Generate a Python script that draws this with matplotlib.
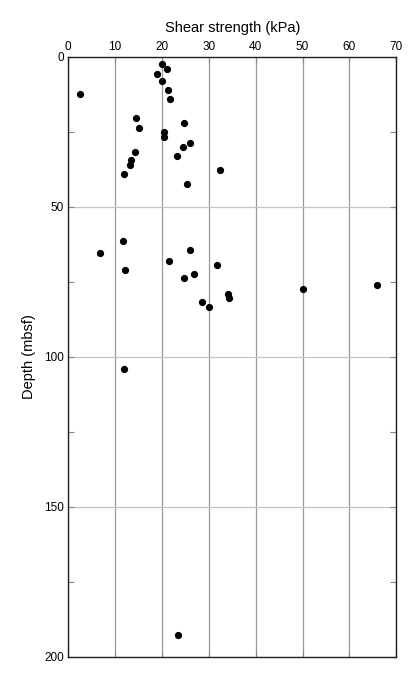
import matplotlib
matplotlib.use('Agg')
import matplotlib.pyplot as plt
import numpy as np

plt.rcParams['font.family'] = ['Liberation Sans', 'DejaVu Sans']

# shear strength (kPa) vs depth (mbsf)
strength = [20.1, 21.0, 18.9, 20.1, 2.5, 21.3, 21.8, 14.4, 24.8, 15.1,
            20.5, 20.4, 26.0, 24.5, 14.2, 23.1, 13.4, 13.2, 11.9, 25.4,
            32.4,
            11.7, 6.7, 25.9, 21.6, 12.0, 31.7, 24.6, 26.8, 50.1, 66.0,
            34.0, 34.3, 28.5, 30.0,
            11.9, 23.4]
depth = [2.4, 4.1, 5.8, 8.0, 12.4, 11.0, 14.0, 20.5, 22.1, 23.7,
         25.0, 26.7, 28.7, 30.2, 31.7, 33.1, 34.5, 36.2, 39.0, 42.4,
         37.8,
         61.5, 65.5, 64.5, 68.0, 71.0, 69.5, 73.9, 72.4, 77.4, 76.1,
         79.0, 80.5, 81.9, 83.4,
         104.1, 192.7]

xticks = [0, 10, 20, 30, 40, 50, 60, 70]
yticks = [0, 50, 100, 150, 200]

fig = plt.figure(figsize=(4.14, 6.76), dpi=100)
ax = fig.add_axes([0.165, 0.0286, 0.792, 0.8874])

ax.plot(strength, depth, 'o', color='black', markersize=4.2, zorder=3)

ax.set_xlim(0, 70)
ax.set_ylim(200, 0)
ax.set_xticks(xticks)
ax.set_yticks(yticks)
ax.set_yticks([25, 75, 125, 175], minor=True)

ax.xaxis.tick_top()
ax.xaxis.set_label_position('top')
ax.tick_params(axis='x', which='both', direction='in', top=True, bottom=True,
               length=4, width=0.8, color='#888888', labelsize=8.5, pad=3)
ax.tick_params(axis='y', which='both', direction='in', left=True, right=True,
               length=4, width=0.8, color='#888888', labelsize=8.5, pad=3)

ax.grid(axis='x', color='#999999', linewidth=0.9)
ax.grid(axis='y', which='major', color='#c4c4c4', linewidth=0.9)
ax.set_axisbelow(True)

for s in ax.spines.values():
    s.set_linewidth(1.0)
    s.set_color('#222222')

ax.set_xlabel('Shear strength (kPa)', fontsize=10.5, labelpad=6)
ax.set_ylabel('Depth (mbsf)', fontsize=10.5, labelpad=6)

fig.savefig('out.png', dpi=100)
